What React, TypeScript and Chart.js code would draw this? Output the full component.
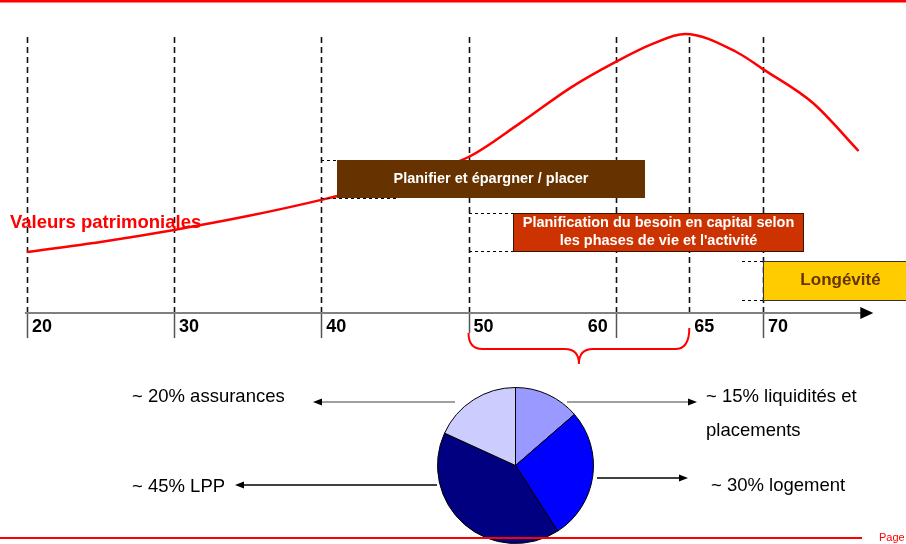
import React, { useEffect, useRef } from "react";
import { Chart, registerables } from "chart.js";

Chart.register(...registerables);

// ---------- data ----------
const tickAges = [20, 30, 40, 50, 60, 65, 70];
const tickLabels = ["20", "30", "40", "50", "60", "65", "70"];

const curveAges = [20, 25, 30, 35, 40, 45, 50, 53.5, 57, 60, 62.5, 64.7, 68.2, 70, 73.4, 76.5];
const curveValues = [20.3, 23.7, 27.7, 32.3, 37.7, 44, 52, 63.3, 75.3, 83.7, 89.7, 93, 87, 81.3, 70, 54];
const curveLabel = "Valeurs patrimoniales";

const phaseLabels = [
  ["Planifier et épargner / placer"],
  ["Planification du besoin en capital selon", "les phases de vie et l'activité"],
  ["Longévité"],
];
const phaseFrom = [40, 50, 68.6];
const phaseStart = [41.1, 53, 70];
const phaseEnd = [62, 72.8, 80];

const bracketAges = [50, 65];
const axisEndAge = 77.5;

const pieLabels = ["liquidités et placements", "logement", "LPP", "assurances"];
const pieValues = [15, 30, 45, 20];
const pieTexts = [
  ["~ 15% liquidités et", "placements"],
  ["~ 30% logement"],
  ["~ 45% LPP"],
  ["~ 20% assurances"],
];

// ---------- styles / layout ----------
const FONT = '"Liberation Sans", Arial, Helvetica, sans-serif';
const W = 906;
const H = 544;
const PIE_COLORS = ["#9999FF", "#0000FF", "#000080", "#CCCCFF"];
const PHASE_STYLE = [
  { fill: "#663300", stroke: "", text: "#FFFFFF", font: `bold 14.5px ${FONT}`, top: 160, bottom: 198, shift: 0 },
  { fill: "#CC3300", stroke: "#3a1200", text: "#FFFFFF", font: `bold 14.5px ${FONT}`, top: 213, bottom: 251, shift: 0 },
  { fill: "#FFCC00", stroke: "#333333", text: "#663300", font: `bold 17px ${FONT}`, top: 261, bottom: 300, shift: 6 },
];
const PIE_LAYOUT = [
  { textX: 706, textY: 397, lineH: 34, arrowFrom: 567, arrowTo: 697, arrowY: 402, color: "#808080" },
  { textX: 711, textY: 486, lineH: 34, arrowFrom: 597, arrowTo: 688, arrowY: 478, color: "#000000" },
  { textX: 132, textY: 487, lineH: 34, arrowFrom: 437, arrowTo: 235, arrowY: 485, color: "#000000" },
  { textX: 132, textY: 397, lineH: 34, arrowFrom: 455, arrowTo: 313, arrowY: 402, color: "#808080" },
];

function arrow(ctx: CanvasRenderingContext2D, x0: number, x1: number, y: number, color: string) {
  const dir = x1 > x0 ? 1 : -1;
  ctx.strokeStyle = color;
  ctx.fillStyle = "#000";
  ctx.lineWidth = 1.5;
  ctx.beginPath();
  ctx.moveTo(x0, y);
  ctx.lineTo(x1 - dir * 8, y);
  ctx.stroke();
  ctx.beginPath();
  ctx.moveTo(x1, y);
  ctx.lineTo(x1 - dir * 9, y - 3.5);
  ctx.lineTo(x1 - dir * 9, y + 3.5);
  ctx.closePath();
  ctx.fill();
}

const diagramPlugin = {
  id: "diagram",
  beforeDatasetsDraw(chart: any) {
    const ctx: CanvasRenderingContext2D = chart.ctx;
    const xs = chart.scales.x;
    const ys = chart.scales.y;
    const X = (a: number) => xs.getPixelForValue(a);
    const axisY = Math.round(ys.getPixelForValue(0));
    ctx.save();
    // top red rule
    ctx.fillStyle = "#FF0000";
    ctx.fillRect(0, 0, chart.width, 2.5);

    // dashed verticals
    ctx.strokeStyle = "#111";
    ctx.lineWidth = 1.6;
    ctx.setLineDash([6, 4]);
    tickAges.forEach((a) => {
      const x = Math.round(X(a)) + 0.5;
      ctx.beginPath();
      ctx.moveTo(x, 37);
      ctx.lineTo(x, axisY);
      ctx.stroke();
    });
    ctx.setLineDash([]);

    // solid ticks below axis
    ctx.strokeStyle = "#555";
    ctx.lineWidth = 1.5;
    tickAges.forEach((a) => {
      if (a === bracketAges[1]) return;
      const x = Math.round(X(a)) + 0.5;
      ctx.beginPath();
      ctx.moveTo(x, axisY);
      ctx.lineTo(x, a === bracketAges[0] ? axisY + 20 : axisY + 25);
      ctx.stroke();
    });

    // axis with arrow
    const x0 = X(tickAges[0]) - 2;
    const x1 = X(axisEndAge);
    ctx.strokeStyle = "#808080";
    ctx.lineWidth = 2;
    ctx.beginPath();
    ctx.moveTo(x0, axisY);
    ctx.lineTo(x1 - 12, axisY);
    ctx.stroke();
    ctx.fillStyle = "#000";
    ctx.beginPath();
    ctx.moveTo(x1, axisY);
    ctx.lineTo(x1 - 13, axisY - 6);
    ctx.lineTo(x1 - 13, axisY + 6);
    ctx.closePath();
    ctx.fill();

    // tick labels
    ctx.fillStyle = "#000";
    ctx.font = `bold 18px ${FONT}`;
    ctx.textBaseline = "middle";
    tickLabels.forEach((t, i) => {
      const x = X(tickAges[i]);
      if (t === "60") {
        ctx.textAlign = "right";
        ctx.fillText(t, x - 8, axisY + 14);
      } else {
        ctx.textAlign = "left";
        ctx.fillText(t, x + 5, axisY + 14);
      }
    });
    ctx.restore();
  },
  afterDatasetsDraw(chart: any) {
    const ctx: CanvasRenderingContext2D = chart.ctx;
    const xs = chart.scales.x;
    const ys = chart.scales.y;
    const X = (a: number) => xs.getPixelForValue(a);
    const axisY = Math.round(ys.getPixelForValue(0));
    ctx.save();

    // phase boxes
    phaseLabels.forEach((lines, i) => {
      const st = PHASE_STYLE[i];
      const from = Math.round(X(phaseFrom[i]));
      const left = Math.round(X(phaseStart[i]));
      const right = Math.round(X(phaseEnd[i]));
      ctx.strokeStyle = "#000";
      ctx.lineWidth = 1;
      ctx.setLineDash([3, 3]);
      ctx.beginPath();
      ctx.moveTo(from, st.top + 0.5);
      ctx.lineTo(left + 60, st.top + 0.5);
      ctx.moveTo(from, st.bottom + 0.5);
      ctx.lineTo(left + 60, st.bottom + 0.5);
      ctx.stroke();
      ctx.setLineDash([]);
      ctx.fillStyle = st.fill;
      ctx.fillRect(left, st.top, right - left, st.bottom - st.top);
      if (st.stroke) {
        ctx.strokeStyle = st.stroke;
        ctx.lineWidth = 1;
        ctx.strokeRect(left + 0.5, st.top + 0.5, right - left - 1, st.bottom - st.top);
      }
      const cx = (Math.max(left, 0) + Math.min(right, chart.width)) / 2 + st.shift;
      const cy = (st.top + st.bottom) / 2;
      ctx.fillStyle = st.text;
      ctx.font = st.font;
      ctx.textAlign = "center";
      ctx.textBaseline = "middle";
      const lh = 18;
      lines.forEach((l, k) => {
        ctx.fillText(l, cx, cy + (k - (lines.length - 1) / 2) * lh);
      });
    });

    // series label
    ctx.fillStyle = "#FF0000";
    ctx.font = `bold 18.5px ${FONT}`;
    ctx.textAlign = "left";
    ctx.textBaseline = "middle";
    ctx.fillText(curveLabel, 10, 223);

    // bracket
    const b0 = X(bracketAges[0]);
    const b1 = X(bracketAges[1]);
    const mid = (b0 + b1) / 2;
    const by = 349;
    ctx.strokeStyle = "#FF0000";
    ctx.lineWidth = 2;
    ctx.beginPath();
    ctx.moveTo(b0, axisY + 20);
    ctx.quadraticCurveTo(b0, by, b0 + 14, by);
    ctx.lineTo(mid - 14, by);
    ctx.quadraticCurveTo(mid, by, mid, by + 15);
    ctx.quadraticCurveTo(mid, by, mid + 14, by);
    ctx.lineTo(b1 - 14, by);
    ctx.quadraticCurveTo(b1, by, b1, axisY + 15);
    ctx.stroke();

    // pie arrows and labels
    PIE_LAYOUT.forEach((p, i) => {
      arrow(ctx, p.arrowFrom, p.arrowTo, p.arrowY, p.color);
      ctx.fillStyle = "#000";
      ctx.font = `18.5px ${FONT}`;
      ctx.textAlign = "left";
      ctx.textBaseline = "middle";
      pieTexts[i].forEach((t, k) => ctx.fillText(t, p.textX, p.textY + k * p.lineH));
    });

    // bottom red rule + Page
    ctx.fillStyle = "#FF0000";
    ctx.fillRect(0, 537, 862, 2);
    ctx.font = `11px ${FONT}`;
    ctx.textAlign = "left";
    ctx.textBaseline = "middle";
    ctx.fillText("Page", 879, 538);
    ctx.restore();
  },
};

export default function App() {
  const mainRef = useRef<HTMLCanvasElement | null>(null);
  const pieRef = useRef<HTMLCanvasElement | null>(null);

  useEffect(() => {
    if (!mainRef.current || !pieRef.current) return;
    const pie = new Chart(pieRef.current, {
      type: "pie",
      data: {
        labels: pieLabels,
        datasets: [
          {
            data: pieValues,
            backgroundColor: PIE_COLORS,
            borderColor: "#000",
            borderWidth: 1,
          },
        ],
      },
      options: {
        responsive: false,
        animation: false,
        layout: { padding: 0 },
        plugins: { legend: { display: false }, tooltip: { enabled: false } },
      },
    });

    const main = new Chart(mainRef.current, {
      type: "line",
      data: {
        datasets: [
          {
            label: curveLabel,
            data: curveAges.map((a, i) => ({ x: a, y: curveValues[i] })),
            borderColor: "#FF0000",
            borderWidth: 2.5,
            pointRadius: 0,
            cubicInterpolationMode: "monotone",
            fill: false,
          },
        ],
      },
      options: {
        responsive: false,
        animation: false,
        layout: { padding: 0 },
        events: [],
        scales: {
          x: { type: "linear", min: 18.173, max: 79.72, display: false },
          y: { type: "linear", min: -77, max: 104.333, display: false },
        },
        plugins: { legend: { display: false }, tooltip: { enabled: false } },
      },
      plugins: [diagramPlugin],
    });

    return () => {
      main.destroy();
      pie.destroy();
    };
  }, []);

  return (
    <div style={{ position: "absolute", left: 0, top: 0, width: W, height: H, background: "#fff", overflow: "hidden" }}>
      <canvas
        ref={pieRef}
        width={157}
        height={157}
        style={{ position: "absolute", left: 437, top: 387, width: 157, height: 157 }}
      />
      <canvas
        ref={mainRef}
        width={W}
        height={H}
        style={{ position: "absolute", left: 0, top: 0, width: W, height: H, pointerEvents: "none" }}
      />
    </div>
  );
}
